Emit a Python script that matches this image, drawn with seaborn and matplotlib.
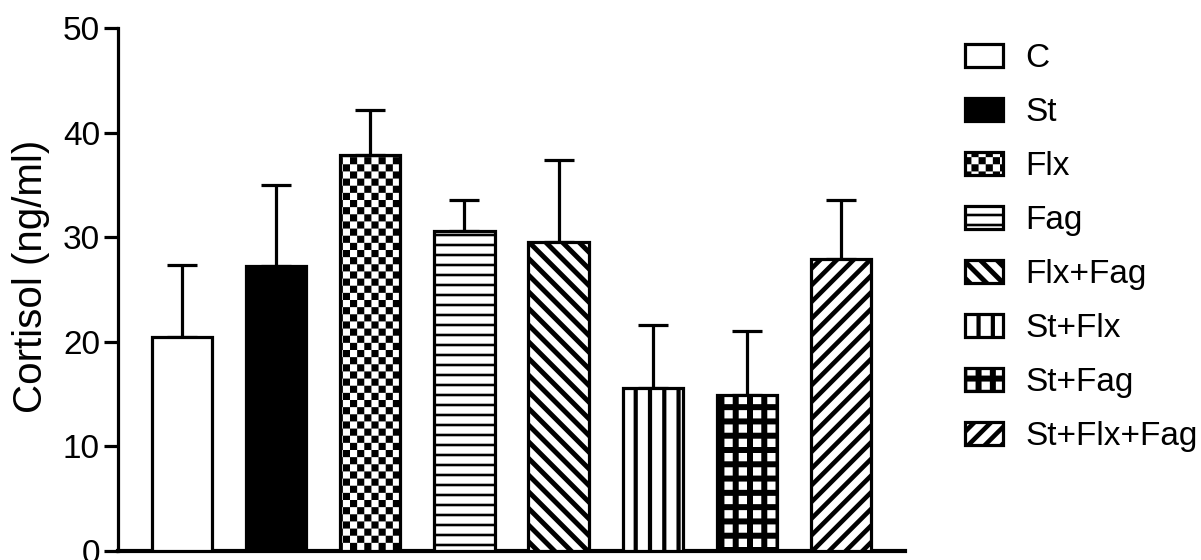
import numpy as np
import matplotlib
matplotlib.use("Agg")
import matplotlib.pyplot as plt
from matplotlib import hatch as mhatch
from matplotlib.path import Path
from matplotlib.patches import Patch
import seaborn as sns

# ---- data -------------------------------------------------------------
groups = ["C", "St", "Flx", "Fag", "Flx+Fag", "St+Flx", "St+Fag", "St+Flx+Fag"]
cortisol_mean = [20.5, 27.2, 37.9, 30.6, 29.5, 15.6, 14.9, 27.9]
cortisol_err = [6.8, 7.8, 4.3, 3.0, 7.9, 6.0, 6.1, 5.7]
bar_fill = ["white", "black", "white", "white", "white", "white", "white", "white"]
bar_hatch = [None, None, "*", "-", "\\", "|", "+", "/"]


# ---- filled hatch patterns (unit tile, y pointing up) -----------------
def _rect(x0, y0, x1, y1):
    return np.array([[x0, y0], [x1, y0], [x1, y1], [x0, y1]], float)


def _horizontal(n=10, t=0.026):
    return [_rect(-0.05, (k + 0.5) / n - t / 2, 1.05, (k + 0.5) / n + t / 2)
            for k in range(n)]


def _vertical(n=7, t=0.042):
    return [_rect((k + 0.5) / n - t / 2, -0.05, (k + 0.5) / n + t / 2, 1.05)
            for k in range(n)]


def _grid(n=7, t=0.06):
    polys = [_rect(-0.05, (k + 0.5) / n - t / 2, 1.05, (k + 0.5) / n + t / 2)
             for k in range(n)]
    for j in range(n):
        xc = (j + 0.5) / n
        for k in range(-1, n):
            polys.append(_rect(xc - t / 2, (k + 0.5) / n + t / 2,
                               xc + t / 2, (k + 1.5) / n - t / 2))
    return polys


def _checker(n=14):
    s = 1.0 / n
    return [_rect(i * s, j * s, (i + 1) * s, (j + 1) * s)
            for i in range(n) for j in range(n) if (i + j) % 2 == 0]


def _forward_diag(n=6, w=0.065):
    polys = []
    for k in range(-n - 1, n + 2):
        c = k / n
        polys.append(np.array([[-0.1, -0.1 + c], [1.1, 1.1 + c],
                               [1.1, 1.1 + c + w], [-0.1, -0.1 + c + w]]))
    return polys


def _back_diag(n=6, w=0.07):
    polys = []
    for k in range(-1, 2 * n + 2):
        c = k / n
        polys.append(np.array([[-0.1, 0.1 + c], [1.1, -1.1 + c],
                               [1.1, -1.1 + c + w], [-0.1, 0.1 + c + w]]))
    return polys


PATTERN_BUILDERS = {"-": _horizontal, "|": _vertical, "+": _grid,
                    "*": _checker, "/": _forward_diag, "\\": _back_diag}


class FilledPatterns(mhatch.HatchPatternBase):
    def __init__(self, hatch, density):
        self.polys = []
        for ch in sorted(set(hatch)):
            if ch in PATTERN_BUILDERS:
                self.polys.extend(PATTERN_BUILDERS[ch]())
        self.num_vertices = sum(len(p) + 1 for p in self.polys)

    def set_vertices_and_codes(self, vertices, codes):
        i = 0
        for p in self.polys:
            n = len(p)
            vertices[i:i + n] = p
            vertices[i + n] = p[0]
            codes[i] = Path.MOVETO
            codes[i + 1:i + n] = Path.LINETO
            codes[i + n] = Path.CLOSEPOLY
            i += n + 1


mhatch._hatch_types = [FilledPatterns]

# ---- style ------------------------------------------------------------
sns.set_theme(style="white")
plt.rcParams["font.family"] = ["Liberation Sans", "DejaVu Sans"]
plt.rcParams["hatch.linewidth"] = 0.0
for key in ("text.color", "axes.labelcolor", "xtick.color", "ytick.color",
            "axes.edgecolor"):
    plt.rcParams[key] = "black"
LW = 2.3
FS = 24

fig = plt.figure(figsize=(12.01, 5.6), dpi=100)
ax = fig.add_axes([118 / 1201, 9 / 560, 787 / 1201, 523 / 560])

palette = dict(zip(groups, bar_fill))
sns.barplot(x=groups, y=cortisol_mean, hue=groups, palette=palette,
            order=groups, hue_order=groups, width=0.64, errorbar=None,
            edgecolor="black", linewidth=LW, legend=False, ax=ax,
            saturation=1)

for patch, h in zip(ax.patches, bar_hatch):
    patch.set_hatch(h)
    patch.set_zorder(3)

ax.errorbar(np.arange(len(groups)), cortisol_mean,
            yerr=[np.zeros(len(groups)), cortisol_err],
            fmt="none", ecolor="black", elinewidth=LW, capsize=11,
            capthick=LW, zorder=2)

ax.set_xlim(-0.68, len(groups) - 1 + 0.68)
ax.set_ylim(0, 50)
ax.set_yticks(np.arange(0, 51, 10))
ax.set_ylabel("Cortisol (ng/ml)", fontsize=29, labelpad=9, color="black")
ax.yaxis.label.set_y(0.526)
ax.tick_params(axis="y", labelsize=FS, length=10, width=LW, pad=3,
               direction="out", left=True, color="black", labelcolor="black")
ax.tick_params(axis="x", length=0, labelbottom=False)
for side in ("top", "right"):
    ax.spines[side].set_visible(False)
for side in ("left", "bottom"):
    ax.spines[side].set_linewidth(LW)
    ax.spines[side].set_color("black")
ax.spines["bottom"].set_linewidth(3.0)

handles = [Patch(facecolor=f, edgecolor="black", hatch=h, linewidth=LW)
           for f, h in zip(bar_fill, bar_hatch)]
leg = fig.legend(handles, groups, loc="upper left",
                 bbox_to_anchor=(952 / 1201, 1 - 30 / 560),
                 frameon=False, fontsize=FS, handlelength=1.14, handleheight=0.69,
                 handletextpad=0.66, labelspacing=0.69, borderaxespad=0)
for txt in leg.get_texts():
    txt.set_color("black")

fig.savefig("out.png", dpi=100)
